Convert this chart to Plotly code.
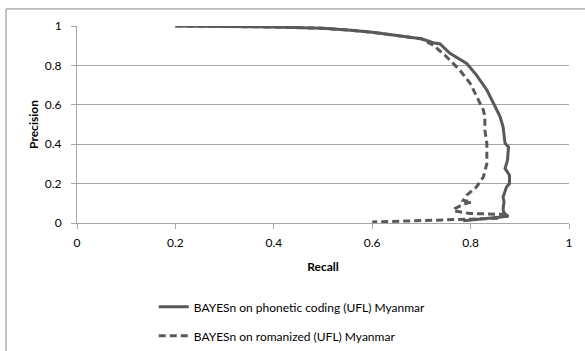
import plotly.graph_objects as go

# Series: BAYESn on phonetic coding (UFL) Myanmar
phonetic_recall = [0.20, 0.30, 0.40, 0.50, 0.55, 0.60, 0.65, 0.70, 0.724, 0.738, 0.758,
                   0.792, 0.812, 0.833, 0.850, 0.860, 0.866, 0.870, 0.877, 0.875, 0.870,
                   0.879, 0.879, 0.873, 0.866, 0.868, 0.866, 0.867, 0.873, 0.877, 0.826,
                   0.785]
phonetic_precision = [1.000, 0.998, 0.995, 0.988, 0.980, 0.968, 0.953, 0.935, 0.915, 0.909, 0.861,
                      0.810, 0.751, 0.675, 0.590, 0.539, 0.488, 0.404, 0.386, 0.319, 0.277,
                      0.243, 0.200, 0.183, 0.132, 0.107, 0.073, 0.056, 0.039, 0.034, 0.022,
                      0.012]

# Series: BAYESn on romanized (UFL) Myanmar
roman_recall = [0.20, 0.30, 0.40, 0.50, 0.55, 0.60, 0.65, 0.70, 0.724, 0.751, 0.778,
                0.799, 0.816, 0.826, 0.829, 0.829, 0.833, 0.833, 0.826, 0.812, 0.792,
                0.785, 0.802, 0.785, 0.768, 0.765, 0.799, 0.866, 0.860, 0.799, 0.754,
                0.600]
roman_precision = [1.000, 0.998, 0.995, 0.988, 0.980, 0.968, 0.953, 0.935, 0.903, 0.844, 0.776,
                   0.709, 0.624, 0.573, 0.539, 0.471, 0.404, 0.302, 0.234, 0.183, 0.141,
                   0.115, 0.107, 0.095, 0.073, 0.062, 0.048, 0.044, 0.024, 0.019, 0.014,
                   0.005]

series_names = ["BAYESn on phonetic coding (UFL) Myanmar", "BAYESn on romanized (UFL) Myanmar"]
tick_vals = [0, 0.2, 0.4, 0.6, 0.8, 1]
tick_text = ["0", "0.2", "0.4", "0.6", "0.8", "1"]

FONT = "Lato"
LINE = "#595959"

fig = go.Figure()
fig.add_trace(go.Scatter(x=phonetic_recall, y=phonetic_precision, mode="lines",
                         name=series_names[0], legendgroup="a",
                         line=dict(color=LINE, width=3)))
fig.add_trace(go.Scatter(x=roman_recall, y=roman_precision, mode="lines",
                         name=series_names[1], legendgroup="b",
                         line=dict(color=LINE, width=3, dash="7px,4px")))

fig.update_layout(
    width=585, height=351,
    margin=dict(l=77, r=16, t=26, b=128, autoexpand=False),
    paper_bgcolor="white", plot_bgcolor="white",
    font=dict(family=FONT, size=12, color="#000000"),
    showlegend=True,
    legend=dict(x=0.156, y=-0.352, xanchor="left", yanchor="top",
                orientation="v", tracegroupgap=10,
                font=dict(family=FONT, size=12, color="#000000"),
                bgcolor="rgba(0,0,0,0)"),
    xaxis=dict(range=[0, 1], tickvals=tick_vals, ticktext=tick_text,
               showgrid=False, zeroline=False, automargin=False,
               showline=True, linecolor="#A6A6A6", linewidth=1,
               ticks="outside", ticklen=5, tickcolor="#A6A6A6",
               ticklabelstandoff=4,
               tickfont=dict(size=12),
               title=dict(text="<b>Recall</b>", font=dict(size=12), standoff=13)),
    yaxis=dict(range=[0, 1], tickvals=tick_vals, ticktext=tick_text,
               showgrid=True, gridcolor="#A6A6A6", gridwidth=1, zeroline=False,
               automargin=False,
               showline=True, linecolor="#A6A6A6", linewidth=1,
               ticks="outside", ticklen=5, tickcolor="#A6A6A6",
               ticklabelstandoff=7,
               tickfont=dict(size=12),
               title=dict(text="<b>Precision</b>", font=dict(size=12), standoff=3)),
)

# outer chart-area border
fig.add_shape(type="rect", xref="paper", yref="paper",
              x0=-0.1443, x1=1.06, y0=-1.2, y1=1.0865,
              line=dict(color="#868686", width=1), fillcolor="rgba(0,0,0,0)", layer="below")

fig.write_html("out.html", config={"displayModeBar": False},
               post_script="document.body.style.margin='0';document.body.style.padding='0';")
